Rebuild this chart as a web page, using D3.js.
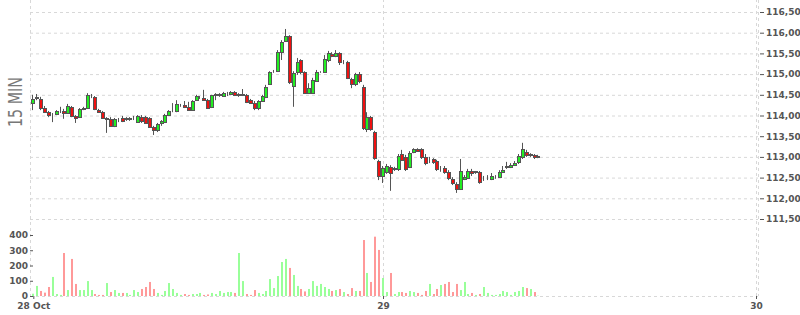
<!DOCTYPE html>
<html>
<head>
<meta charset="utf-8">
<script src="https://cdn.jsdelivr.net/npm/d3@7"></script>
<style>
  body { margin: 0; background: #fff; }
  svg { display: block; font-family: "DejaVu Sans", Verdana, sans-serif; }
  .axis text { font-family: "DejaVu Sans", Verdana, sans-serif; font-size: 9px; font-weight: 700; fill: #555; }
  .axis line { stroke: #555; }
  .axis .domain { display: none; }
  .grid line { stroke: #d8d8d8; stroke-dasharray: 3,3; }
  .grid .domain { display: none; }
</style>
</head>
<body>
<div id="chart"></div>
<script>
// 15 minute bars, first one at 28 Oct 01:30
const firstBar = new Date(2016, 9, 28, 1, 30);
const barMinutes = 15;

const open = [
  114.30, 114.42, 114.40, 114.18, 114.08, 114.01, 114.04, 114.11, 114.11, 114.06,
  114.21, 113.99, 113.96, 114.16, 114.18, 114.47, 114.45, 114.13, 114.08, 113.92,
  113.92, 113.75, 113.89, 113.94, 113.92, 113.92, 113.94, 113.84, 113.96, 113.96,
  113.94, 113.72, 113.65, 113.82, 113.84, 114.01, 114.11, 114.11, 114.25, 114.25,
  114.21, 114.13, 114.37, 114.42, 114.42, 114.37, 114.21, 114.50, 114.50, 114.47,
  114.52, 114.52, 114.57, 114.50, 114.50, 114.50, 114.37, 114.30, 114.18, 114.35,
  114.45, 114.76, 115.07, 115.07, 115.53, 115.80, 115.92, 114.71, 115.05, 115.34,
  115.05, 114.54, 114.54, 114.83, 115.05, 115.05, 115.34, 115.49, 115.44, 115.51,
  115.29, 115.29, 114.88, 114.76, 115.00, 114.69, 113.67, 113.96, 113.60, 112.90,
  112.54, 112.64, 112.76, 112.71, 112.71, 113.07, 113.00, 112.76, 113.12, 113.19,
  113.19, 113.00, 112.90, 112.95, 112.90, 112.73, 112.73, 112.64, 112.47, 112.35,
  112.22, 112.47, 112.49, 112.66, 112.64, 112.64, 112.49, 112.49, 112.47, 112.51,
  112.51, 112.64, 112.76, 112.76, 112.80, 112.88, 113.00, 113.12, 113.05, 113.05, 113.00
];
const high = [
  114.50, 114.52, 114.45, 114.23, 114.11, 114.06, 114.13, 114.21, 114.16, 114.28,
  114.23, 114.01, 114.18, 114.21, 114.54, 114.52, 114.47, 114.16, 114.11, 113.96,
  113.96, 113.94, 113.94, 113.99, 113.96, 113.96, 113.99, 114.01, 114.01, 113.99,
  113.96, 113.75, 113.82, 113.89, 114.04, 114.13, 114.30, 114.37, 114.28, 114.35,
  114.33, 114.37, 114.50, 114.47, 114.62, 114.40, 114.50, 114.54, 114.54, 114.57,
  114.57, 114.59, 114.59, 114.54, 114.64, 114.52, 114.40, 114.35, 114.37, 114.50,
  114.74, 115.07, 115.10, 115.58, 115.82, 116.09, 115.94, 115.07, 115.39, 115.36,
  115.07, 114.78, 114.91, 115.10, 115.07, 115.46, 115.56, 115.53, 115.58, 115.53,
  115.34, 115.32, 114.91, 115.03, 115.05, 114.74, 114.08, 113.99, 113.63, 112.93,
  112.78, 112.83, 112.80, 112.76, 113.07, 113.17, 113.05, 113.14, 113.21, 113.21,
  113.21, 113.07, 113.00, 112.97, 112.93, 112.78, 112.78, 112.68, 112.51, 112.39,
  112.95, 112.56, 112.71, 112.71, 112.66, 112.66, 112.54, 112.56, 112.61, 112.56,
  112.68, 112.78, 112.88, 112.85, 112.90, 113.07, 113.34, 113.17, 113.09, 113.07, 113.05
];
const low = [
  114.13, 114.37, 114.13, 114.06, 113.96, 113.84, 114.01, 114.06, 113.92, 114.04,
  113.96, 113.82, 113.94, 114.13, 114.16, 114.42, 114.13, 114.06, 113.92, 113.58,
  113.77, 113.72, 113.84, 113.84, 113.87, 113.87, 113.89, 113.82, 113.82, 113.80,
  113.70, 113.53, 113.60, 113.75, 113.82, 113.99, 114.08, 114.08, 114.21, 114.18,
  114.11, 114.11, 114.35, 114.40, 114.35, 114.16, 114.18, 114.37, 114.45, 114.45,
  114.47, 114.50, 114.47, 114.45, 114.47, 114.30, 114.28, 114.13, 114.13, 114.33,
  114.42, 114.74, 115.03, 115.05, 115.34, 115.78, 114.76, 114.21, 114.98, 115.00,
  114.52, 114.52, 114.52, 114.81, 115.03, 115.03, 115.29, 115.41, 115.41, 115.22,
  115.24, 114.88, 114.66, 114.71, 114.78, 113.65, 113.60, 113.63, 112.93, 112.44,
  112.37, 112.59, 112.18, 112.66, 112.66, 112.90, 112.66, 112.73, 113.09, 113.12,
  112.95, 112.80, 112.85, 112.83, 112.66, 112.64, 112.59, 112.44, 112.32, 112.13,
  112.20, 112.44, 112.47, 112.54, 112.59, 112.35, 112.42, 112.44, 112.44, 112.47,
  112.49, 112.61, 112.71, 112.73, 112.78, 112.83, 112.95, 113.00, 113.00, 112.95, 112.97
];
const close = [
  114.40, 114.45, 114.18, 114.08, 114.01, 114.02, 114.11, 114.12, 114.06, 114.23,
  113.99, 113.94, 114.16, 114.17, 114.50, 114.48, 114.16, 114.08, 113.94, 113.93,
  113.75, 113.92, 113.90, 113.87, 113.93, 113.93, 113.95, 113.99, 113.87, 113.82,
  113.72, 113.65, 113.80, 113.87, 114.01, 114.11, 114.12, 114.28, 114.26, 114.21,
  114.13, 114.35, 114.47, 114.43, 114.37, 114.18, 114.50, 114.51, 114.51, 114.54,
  114.53, 114.57, 114.50, 114.51, 114.51, 114.33, 114.30, 114.18, 114.35, 114.47,
  114.69, 115.05, 115.08, 115.53, 115.78, 115.92, 114.81, 115.03, 115.29, 115.05,
  114.54, 114.66, 114.86, 115.05, 115.06, 115.36, 115.51, 115.44, 115.51, 115.29,
  115.30, 114.91, 114.76, 115.00, 114.83, 113.70, 113.96, 113.67, 112.97, 112.54,
  112.73, 112.78, 112.61, 112.72, 113.02, 112.93, 112.71, 113.09, 113.19, 113.14,
  113.00, 112.85, 112.91, 112.88, 112.71, 112.74, 112.64, 112.49, 112.37, 112.22,
  112.66, 112.51, 112.66, 112.61, 112.65, 112.39, 112.50, 112.50, 112.54, 112.52,
  112.64, 112.68, 112.77, 112.80, 112.85, 113.02, 113.19, 113.05, 113.06, 113.00, 113.01
];
const volume = [
  15, 66, 33, 22, 59, 125, 13, 7, 282, 39,
  243, 79, 39, 39, 98, 39, 13, 7, 7, 85,
  26, 39, 20, 20, 20, 7, 39, 26, 46, 59,
  92, 46, 20, 7, 33, 85, 46, 20, 7, 13,
  7, 13, 13, 20, 7, 10, 20, 13, 33, 20,
  26, 26, 20, 282, 98, 13, 7, 39, 20, 13,
  33, 111, 52, 131, 223, 243, 184, 138, 66, 46,
  30, 46, 98, 66, 79, 59, 46, 33, 39, 46,
  26, 13, 52, 33, 33, 367, 151, 92, 389, 302,
  118, 26, 151, 13, 26, 26, 20, 33, 26, 20,
  7, 33, 79, 13, 46, 72, 79, 92, 26, 79,
  39, 92, 13, 20, 7, 13, 59, 20, 7, 7,
  13, 33, 26, 7, 26, 33, 59, 52, 46, 26, 2
];

const priceTicks = [111.5, 112, 112.5, 113, 113.5, 114, 114.5, 115, 115.5, 116, 116.5];
const volumeTicks = [0, 100, 200, 300, 400];
const dayTicks = [new Date(2016, 9, 29), new Date(2016, 9, 30)];
const periodLabel = '15 MIN';

const bars = open.map((o, i) => ({
  date: d3.timeMinute.offset(firstBar, i * barMinutes),
  open: o, high: high[i], low: low[i], close: close[i], volume: volume[i]
}));

const config = {
  width: 800, height: 315,
  left: 30, right: 758, priceTop: 12, priceBottom: 219,
  volTop: 235, baseline: 296
};

const svg = d3.select('#chart').append('svg')
  .attr('width', config.width)
  .attr('height', config.height);

// scales
const x = d3.scaleTime()
  .domain(dayTicks)
  .range([383, 756]);
const y = d3.scaleLinear()
  .domain([d3.min(priceTicks), d3.max(priceTicks)])
  .range([config.priceBottom, config.priceTop]);
const yVol = d3.scaleLinear()
  .domain([0, d3.max(volumeTicks)])
  .range([config.baseline, config.volTop]);

// grid
svg.append('g')
  .attr('class', 'grid')
  .attr('transform', `translate(${config.left},0)`)
  .call(d3.axisLeft(y).tickValues(priceTicks).tickSize(-(config.right - config.left)).tickFormat(''));

svg.append('g')
  .attr('class', 'grid')
  .attr('transform', `translate(0,${config.baseline})`)
  .call(d3.axisBottom(x).tickValues(dayTicks).tickSize(-config.baseline).tickFormat(''));

const border = svg.append('g').attr('class', 'grid');
border.selectAll('line.edge')
  .data([config.left, config.right])
  .join('line')
  .attr('class', 'edge')
  .attr('x1', d => d + 0.5).attr('x2', d => d + 0.5)
  .attr('y1', 0).attr('y2', config.baseline);
border.append('line')
  .attr('x1', config.left).attr('x2', config.right)
  .attr('y1', config.baseline + 0.5).attr('y2', config.baseline + 0.5);

// clip for the plot area
svg.append('clipPath').attr('id', 'plot-clip')
  .append('rect')
  .attr('x', config.left).attr('y', 0)
  .attr('width', config.right - config.left).attr('height', config.baseline);

const plot = svg.append('g').attr('clip-path', 'url(#plot-clip)');
const cx = d => Math.round(x(d.date));
const up = d => d.close >= d.open;

// volume bars
plot.append('g').selectAll('rect')
  .data(bars)
  .join('rect')
  .attr('x', d => cx(d) - 1)
  .attr('width', 2)
  .attr('y', d => yVol(d.volume))
  .attr('height', d => config.baseline - yVol(d.volume))
  .attr('fill', d => up(d) ? '#99ff99' : '#ff9999');

// candles: wick then body (1px outline, 2px fill)
const candle = plot.append('g').selectAll('g')
  .data(bars)
  .join('g');

candle.append('line')
  .attr('x1', d => cx(d) - 0.5).attr('x2', d => cx(d) - 0.5)
  .attr('y1', d => y(d.high)).attr('y2', d => y(d.low))
  .attr('stroke', '#555')
  .attr('stroke-width', 1);

candle.append('rect')
  .attr('x', d => cx(d) - 1.5)
  .attr('width', 3)
  .attr('y', d => Math.round(y(Math.max(d.open, d.close))) + 0.5)
  .attr('height', d => Math.max(0, Math.round(y(Math.min(d.open, d.close))) - Math.round(y(Math.max(d.open, d.close)))))
  .attr('fill', d => up(d) ? '#22ee22' : '#ee1111')
  .attr('stroke', '#555')
  .attr('stroke-width', 1);

// price axis on the right
const yAxisG = svg.append('g')
  .attr('class', 'axis')
  .attr('transform', `translate(${config.right},0)`)
  .call(d3.axisRight(y).tickValues(priceTicks).tickSize(6).tickPadding(2)
    .tickFormat(d => d3.format('.2f')(d).replace('.', ',')));
yAxisG.selectAll('.tick line').attr('x1', 2);

// volume axis on the left
svg.append('g')
  .attr('class', 'axis')
  .attr('transform', `translate(${config.left},0)`)
  .call(d3.axisLeft(yVol).tickValues(volumeTicks).tickSize(-3).tickPadding(2));

// time axis
svg.append('g')
  .attr('class', 'axis')
  .attr('transform', `translate(0,${config.baseline})`)
  .call(d3.axisBottom(x).tickValues([firstBar, ...dayTicks]).tickSize(3).tickPadding(3.5)
    .tickFormat(d => +d === +firstBar ? d3.timeFormat('%-d %b')(d) : d3.timeFormat('%-d')(d)));

// period label
svg.append('text')
  .attr('transform', 'translate(22,102) rotate(-90)')
  .attr('text-anchor', 'middle')
  .attr('font-size', 19)
  .attr('fill', '#777')
  .attr('textLength', 50)
  .attr('lengthAdjust', 'spacingAndGlyphs')
  .text(periodLabel);
</script>
</body>
</html>
